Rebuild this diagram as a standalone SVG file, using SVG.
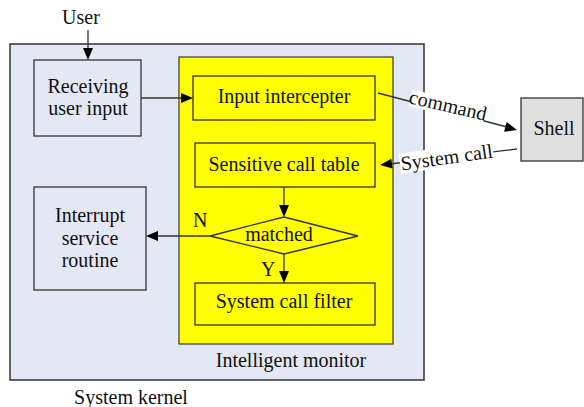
<svg xmlns="http://www.w3.org/2000/svg" xmlns:xlink="http://www.w3.org/1999/xlink" width="584" height="407" viewBox="0 0 584 407">
<style>
text{fill:#111;font-size:20px;font-family:"Liberation Serif",serif}
.c{text-anchor:middle}
.box{stroke:#333;stroke-width:1.3}
.ln{stroke:#333;stroke-width:1.3;fill:none}
</style>
<defs>
<path id="arr" d="M0,0 L-12,-5 L-12,5 Z" fill="#000"/>
</defs>
<rect width="584" height="407" fill="#fff"/>
<g id="kernel">
<rect x="10" y="44" width="414" height="336" fill="#e4e8f4" stroke="#333" stroke-width="1.5"/>
<text class="c" x="131" y="404" font-family="Liberation Serif">System kernel</text>
</g>
<g id="monitor">
<rect x="179" y="57" width="214" height="287" fill="#ffff00" stroke="#444" stroke-width="1.3"/>
<text class="c" x="291" y="367" font-family="Liberation Serif">Intelligent monitor</text>
</g>
<g id="user"><text class="c" x="81" y="24" font-family="Liberation Serif">User</text></g>
<g id="receiving">
<rect class="box" x="34" y="60" width="107" height="76" fill="#e4e8f4"/>
<text class="c" x="88" y="93" font-family="Liberation Serif">Receiving</text>
<text class="c" x="88" y="115" font-family="Liberation Serif">user input</text>
</g>
<g id="interrupt">
<rect class="box" x="34" y="187" width="112" height="103" fill="#e4e8f4"/>
<text class="c" x="90" y="222" font-family="Liberation Serif">Interrupt</text>
<text class="c" x="90" y="245" font-family="Liberation Serif">service</text>
<text class="c" x="90" y="267" font-family="Liberation Serif">routine</text>
</g>
<g id="intercepter">
<rect class="box" x="193" y="76" width="182" height="44" fill="#ffff00"/>
<text class="c" x="284" y="103" font-family="Liberation Serif">Input intercepter</text>
</g>
<g id="sensitive">
<rect class="box" x="195" y="143" width="180" height="44" fill="#ffff00"/>
<text class="c" x="284" y="171" font-family="Liberation Serif">Sensitive call table</text>
</g>
<g id="matched">
<polygon class="box" points="210,236 284,217 358,236 284,254" fill="#ffff00"/>
<text class="c" x="279" y="241" font-family="Liberation Serif">matched</text>
</g>
<g id="filter">
<rect class="box" x="195" y="283" width="180" height="42" fill="#ffff00"/>
<text class="c" x="284" y="308" font-family="Liberation Serif">System call filter</text>
</g>
<g id="shell">
<rect class="box" x="521" y="98" width="62" height="63" fill="#e0e0e0"/>
<text class="c" x="554" y="135" font-family="Liberation Serif">Shell</text>
</g>
<g id="connectors">
<line class="ln" x1="88" y1="30" x2="88" y2="50"/>
<use xlink:href="#arr" transform="translate(88,60) rotate(90)"/>
<line class="ln" x1="141" y1="98" x2="183" y2="98"/>
<use xlink:href="#arr" transform="translate(193,98)"/>
<line class="ln" x1="284" y1="187" x2="284" y2="207"/>
<use xlink:href="#arr" transform="translate(284,217) rotate(90)"/>
<line class="ln" x1="284" y1="254" x2="284" y2="273"/>
<use xlink:href="#arr" transform="translate(284,283) rotate(90)"/>
<line class="ln" x1="210" y1="236" x2="156" y2="236"/>
<use xlink:href="#arr" transform="translate(146,236) rotate(180)"/>
<text x="193" y="227" font-family="Liberation Serif">N</text>
<text x="261" y="276" font-family="Liberation Serif">Y</text>
<line class="ln" x1="378" y1="93" x2="507" y2="127"/>
<use xlink:href="#arr" transform="translate(517,130) rotate(14.9)"/>
<line class="ln" x1="517" y1="149" x2="390" y2="164"/>
<use xlink:href="#arr" transform="translate(380,165) rotate(173.3)"/>
<g transform="translate(447,110) rotate(13)">
<rect x="-38" y="-12" width="76" height="17" fill="#fff"/>
<text class="c" x="0" y="2" font-family="Liberation Serif">command</text>
</g>
<g transform="translate(447,160) rotate(-8)">
<rect x="-47" y="-13" width="94" height="20" fill="#fff"/>
<text class="c" x="0" y="4" font-family="Liberation Serif">System call</text>
</g>
</g>
</svg>
